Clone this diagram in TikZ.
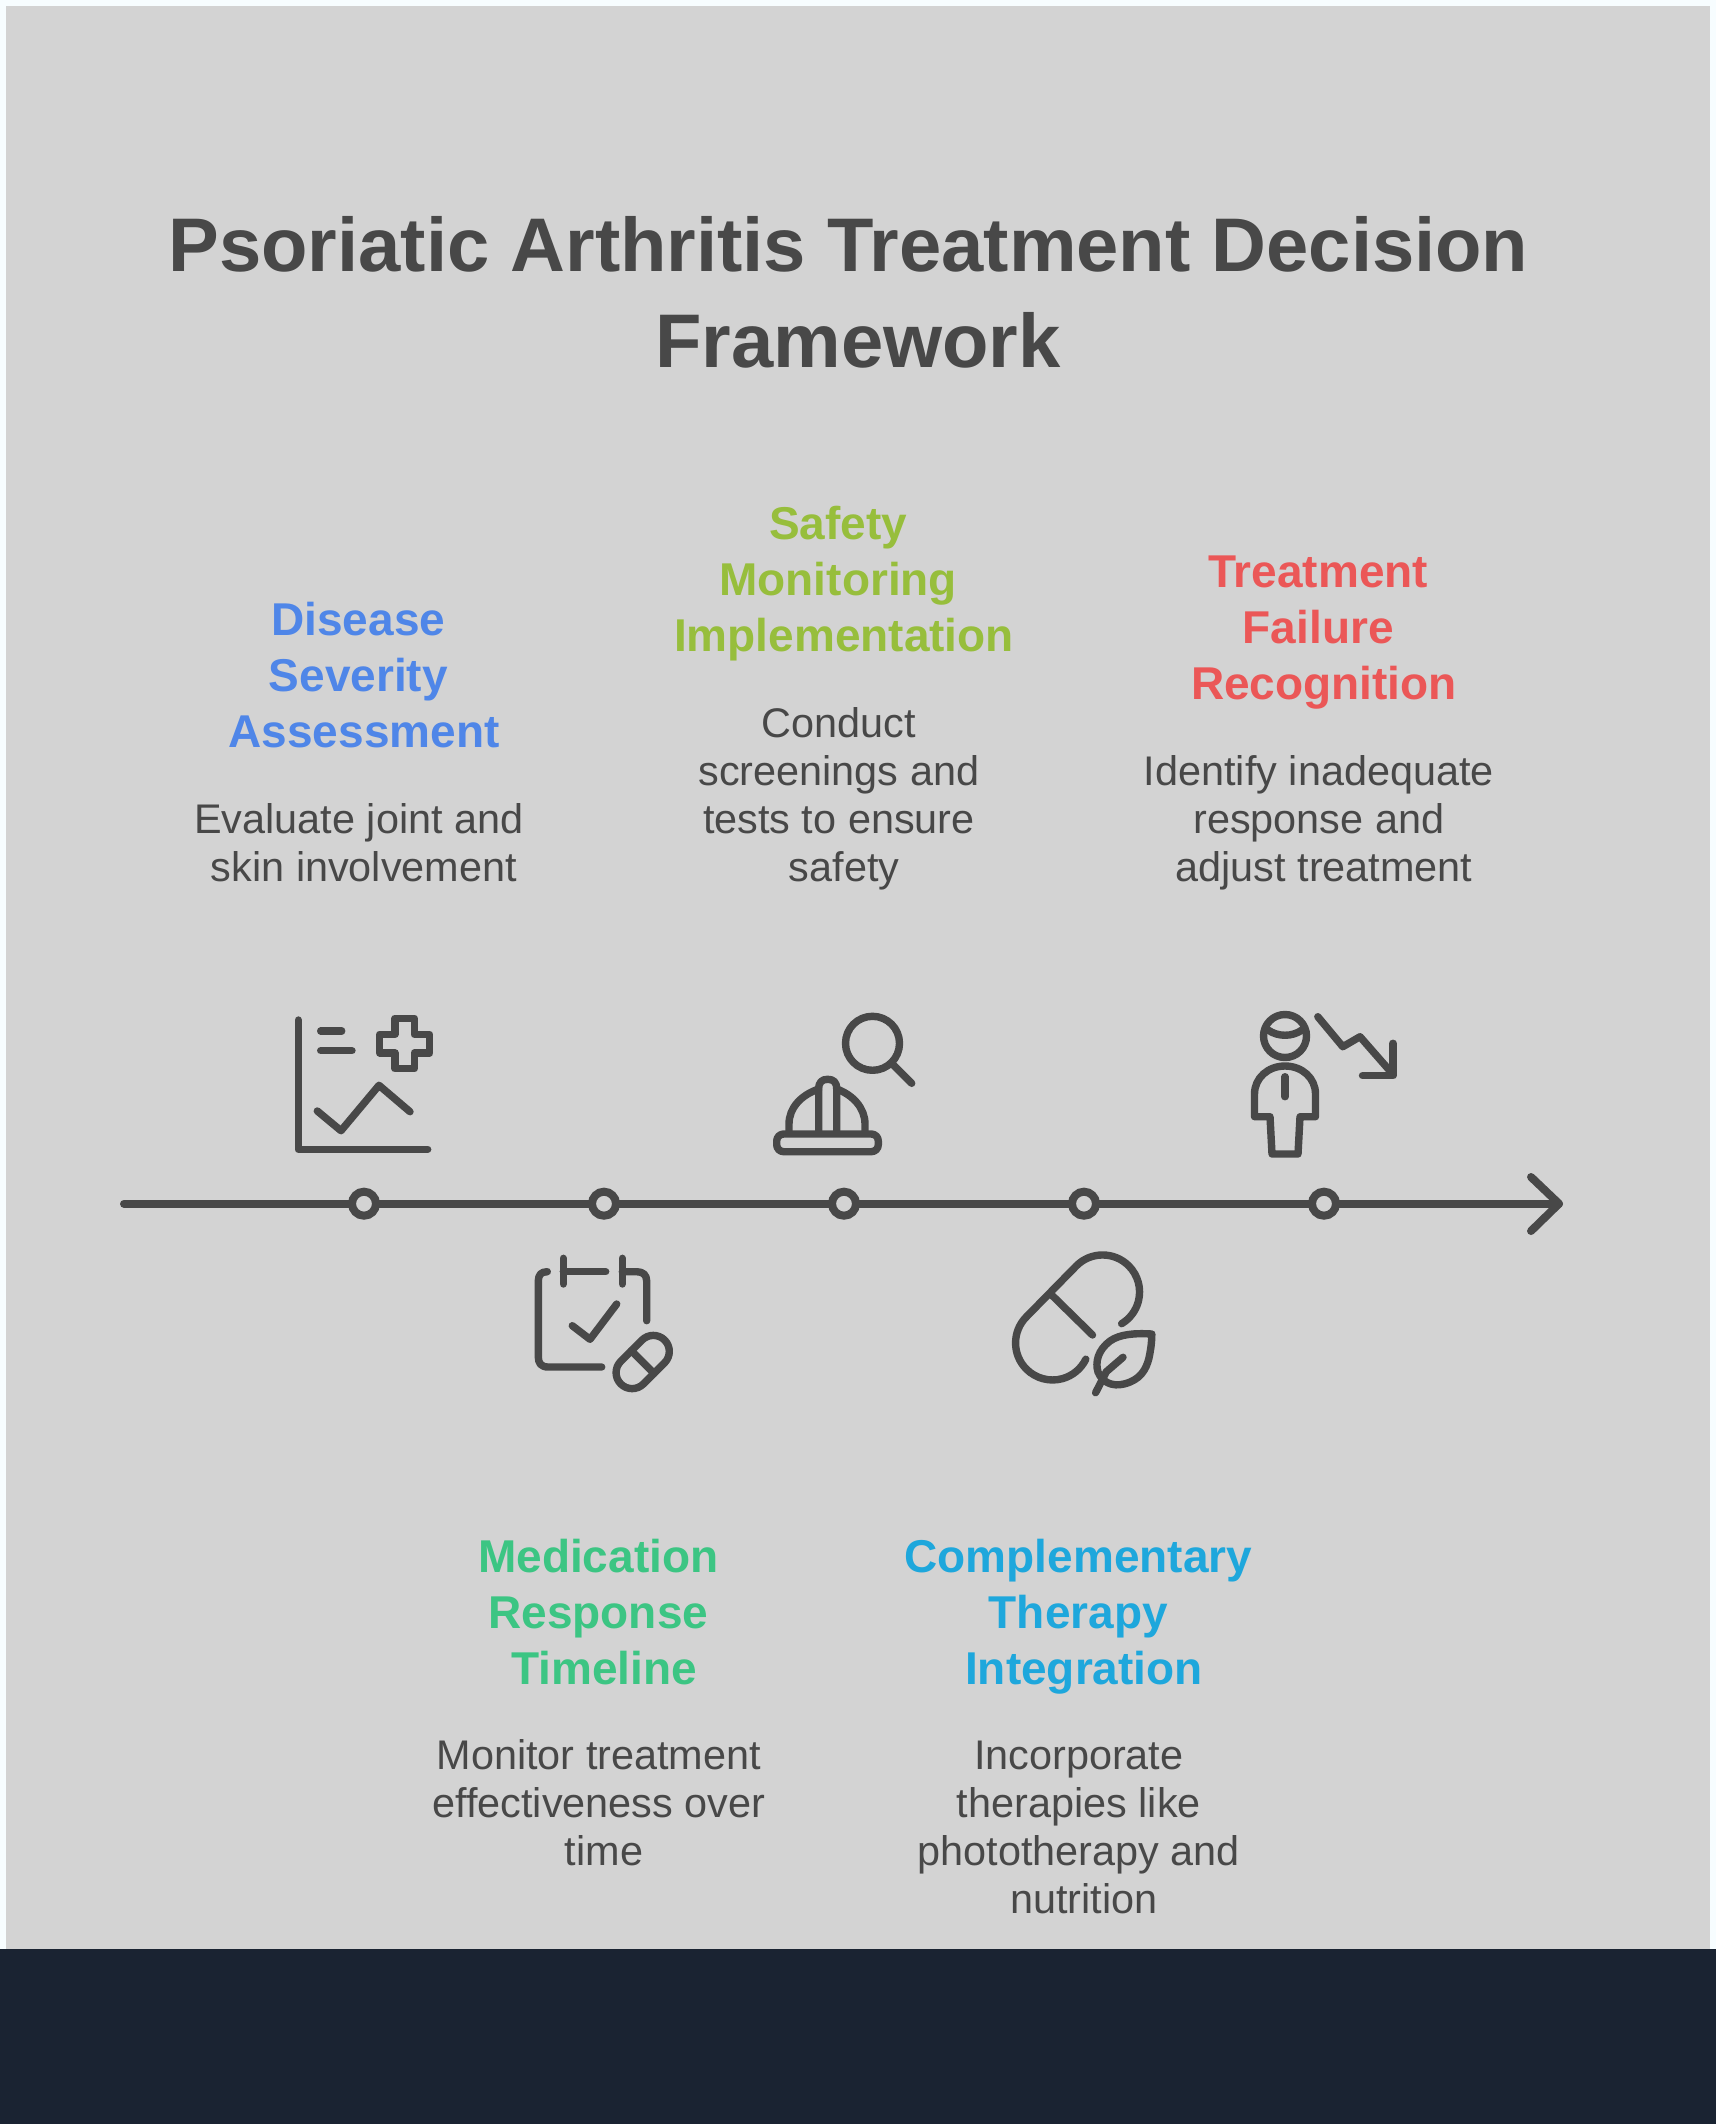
\documentclass[tikz,border=0pt]{standalone}
\usepackage{fontspec}
\setmainfont{Liberation Sans}
\newcommand\tsp{\rule{0.25em}{0pt}}
\definecolor{ink}{HTML}{484848}
\definecolor{panel}{HTML}{D3D3D3}
\definecolor{footer}{HTML}{1A2332}
\definecolor{cblue}{HTML}{4F86E8}
\definecolor{colive}{HTML}{97BE3C}
\definecolor{cred}{HTML}{EB5757}
\definecolor{cgreen}{HTML}{3CC583}
\definecolor{ccyan}{HTML}{1EA7DC}
\tikzset{
 titletext/.style={text=ink,font=\fontsize{38}{48}\selectfont\bfseries,align=center,inner sep=0pt,anchor=base},
 headtext/.style={font=\fontsize{23}{28}\selectfont\bfseries,align=center,inner sep=0pt,anchor=north},
 bodytext/.style={text=ink,font=\fontsize{20.7}{24}\selectfont,align=center,inner sep=0pt,anchor=north},
 axisline/.style={draw=ink,line width=4pt,line cap=round,line join=round},
 iconline/.style={draw=ink,line width=3.7pt,line cap=round,line join=round},
 tick/.style={circle,draw=ink,line width=4pt,fill=panel,minimum size=12pt,inner sep=0pt},
}
\begin{document}
\begin{tikzpicture}[x=0.5pt,y=-0.5pt]
\useasboundingbox (0,0) rectangle (1716,2124);
\fill[white!97!cyan] (0,0) rectangle (1716,2124);
\fill[panel] (6,6) rectangle (1710,1949);
\fill[footer] (0,1949) rectangle (1716,2124);
\node[titletext] (title) at (858,367) {Psoriatic Arthritis Treatment Decision\tsp\\Framework};
% axis
\coordinate (axstart) at (124,1203.7);
\coordinate (axend) at (1559,1203.7);
\coordinate (hA) at (1531,1177);
\coordinate (hB) at (1531,1231);
\draw[axisline] (axstart) -- (axend);
\draw[axisline] (hA) -- (axend) -- (hB);
\node[tick] (t1) at (364,1203.7) {};
\node[tick] (t2) at (604,1203.7) {};
\node[tick] (t3) at (844,1203.7) {};
\node[tick] (t4) at (1084,1203.7) {};
\node[tick] (t5) at (1324,1203.7) {};
% labels
\node[headtext,text=cblue] (h1) at (364,602) {Disease\tsp\\Severity\tsp\\Assessment};
\node[bodytext] (b1) at (364,803) {Evaluate joint and\tsp\\skin involvement};
\node[headtext,text=colive] (h2) at (844,506) {Safety\tsp\\Monitoring\tsp\\Implementation};
\node[bodytext] (b2) at (844,707) {Conduct\tsp\\screenings and\tsp\\tests to ensure\tsp\\safety};
\node[headtext,text=cred] (h3) at (1324,555) {Treatment\tsp\\Failure\tsp\\Recognition};
\node[bodytext] (b3) at (1324,755) {Identify inadequate\tsp\\response and\tsp\\adjust treatment};
\node[headtext,text=cgreen] (h4) at (604,1539) {Medication\tsp\\Response\tsp\\Timeline};
\node[bodytext] (b4) at (604,1739.5) {Monitor treatment\tsp\\effectiveness over\tsp\\time};
\node[headtext,text=ccyan] (h5) at (1084,1539) {Complementary\tsp\\Therapy\tsp\\Integration};
\node[bodytext] (b5) at (1084,1741) {Incorporate\tsp\\therapies like\tsp\\phototherapy and\tsp\\nutrition};
% icon 1
\draw[iconline] (298.3,1020) -- (298.3,1149.3) -- (427.7,1149.3);
\draw[iconline] (320.7,1031) -- (341.7,1031);
\draw[iconline] (320.7,1050.7) -- (352,1050.7);
\draw[iconline] (395,1018.3) -- (414.3,1018.3) -- (414.3,1034.3) -- (429.7,1034.3) -- (429.7,1053) -- (414.3,1053) -- (414.3,1068.7) -- (395,1068.7) -- (395,1053) -- (379.7,1053) -- (379.7,1034.3) -- (395,1034.3) -- cycle;
\draw[iconline] (317.3,1111) -- (341,1130.7) -- (379,1085.3) -- (410,1111.7);
% icon 2
\draw[iconline] (547.3,1271.7) .. controls (541,1271.7) and (538.3,1275) .. (538.3,1281) -- (538.3,1357) .. controls (538.3,1363) and (541,1367) .. (548,1367) -- (601.7,1367);
\draw[iconline] (563.3,1258.3) -- (563.3,1284);
\draw[iconline] (563.3,1271.7) -- (605.7,1271.7);
\draw[iconline] (622.3,1258.3) -- (622.3,1284);
\draw[iconline] (622.3,1271.7) -- (636.7,1271.7) .. controls (643,1271.7) and (646.7,1275) .. (646.7,1281) -- (646.7,1320.7);
\draw[iconline] (572.3,1325.7) -- (590,1339.3) -- (616.7,1304);
\begin{scope}[shift={(642.7,1362)},rotate=45]
\draw[iconline,rounded corners=8pt] (-31,-16) rectangle (31,16);
\draw[iconline] (0,-16) -- (0,16);
\end{scope}
% icon 3
\draw[iconline] (872.5,1043.3) circle[radius=27];
\draw[iconline] (893.3,1065) -- (911.7,1083.3);
\draw[iconline,rounded corners=3.5pt] (776.7,1134) rectangle (878.3,1151.7);
\draw[iconline] (818.7,1132) -- (818.7,1089) .. controls (818.7,1082) and (822,1079.3) .. (827.7,1079.3) .. controls (833.4,1079.3) and (836.7,1082) .. (836.7,1089) -- (836.7,1132);
\draw[iconline] (789,1132) -- (789,1124) .. controls (789,1108) and (801,1095) .. (818.7,1089);
\draw[iconline] (865,1132) -- (865,1124) .. controls (865,1108) and (853,1095) .. (836.7,1089);
% icon 4
\draw[iconline] (1026.4,1316.8) -- (1076.4,1265.8) arc[start angle=225,end angle=419,radius=37];
\draw[iconline] (1026.4,1316.8) arc[start angle=225,end angle=26,radius=37];
\draw[iconline] (1051.7,1295) -- (1092.5,1335);
\draw[iconline] (1151.8,1334) .. controls (1135,1333) and (1120,1334) .. (1110,1341) .. controls (1098,1350) and (1095,1362) .. (1098,1372) .. controls (1102,1382) and (1112,1387) .. (1124,1384) .. controls (1140,1380) and (1146,1370) .. (1149,1358) .. controls (1151,1348) and (1151.8,1342) .. (1151.8,1334) -- cycle;
\draw[iconline] (1123,1357.3) -- (1106.3,1371.7) -- (1095.6,1392.7);
% icon 5
\draw[iconline] (1285,1036) circle[radius=21.5];
\draw[iconline] (1268,1030) .. controls (1278,1037) and (1292,1037) .. (1302,1030);
\draw[iconline] (1254.5,1116.7) -- (1254.5,1094) .. controls (1254.5,1078) and (1268,1066) .. (1285,1066) .. controls (1302,1066) and (1315.5,1078) .. (1315.5,1094) -- (1315.5,1116.7) -- (1300,1116.7) -- (1298,1154) -- (1272,1154) -- (1270,1116.7) -- cycle;
\draw[iconline] (1285,1076.7) -- (1285,1096.7);
\draw[iconline] (1317.8,1016.7) -- (1342.8,1046.7) -- (1360,1036.7) -- (1391.8,1073);
\draw[iconline] (1393,1043.3) -- (1393,1075.7) -- (1362.5,1075.7);
\end{tikzpicture}
\end{document}
